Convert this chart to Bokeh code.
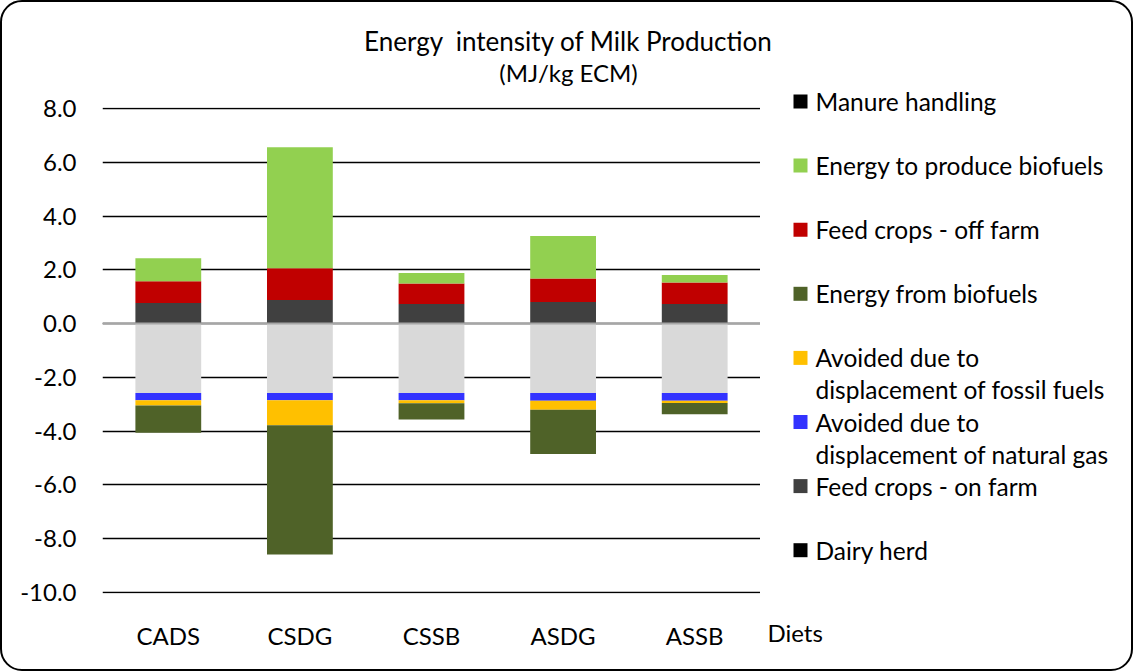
from bokeh.plotting import figure
from bokeh.models import (ColumnDataSource, FactorRange, FixedTicker, NumeralTickFormatter,
                          Span, Range1d)
from bokeh.layouts import column, row
from bokeh.core.properties import value
from bokeh.embed import file_html
from bokeh.resources import INLINE

# ---------------- data ----------------
diets = ["CADS", "CSDG", "CSSB", "ASDG", "ASSB"]

dairy_herd = [0.0, 0.0, 0.0, 0.0, 0.0]
feed_crops_on_farm = [0.77, 0.88, 0.73, 0.80, 0.73]
feed_crops_off_farm = [0.81, 1.18, 0.76, 0.88, 0.80]
energy_to_produce_biofuels = [0.85, 4.50, 0.39, 1.58, 0.28]
manure_handling = [0.0, 0.0, 0.0, 0.0, 0.0]

spacer = [-2.58, -2.58, -2.58, -2.58, -2.58]
avoided_natural_gas = [-0.27, -0.27, -0.27, -0.29, -0.29]
avoided_fossil_fuels = [-0.20, -0.93, -0.11, -0.33, -0.08]
energy_from_biofuels = [-1.01, -4.81, -0.61, -1.65, -0.42]

y_ticks = [-10, -8, -6, -4, -2, 0, 2, 4, 6, 8]

title_line1 = "Energy\u00a0 intensity of Milk Production"
title_line2 = "(MJ/kg ECM)"
x_title = "Diets"

legend_labels = ["Manure handling", "Energy to produce biofuels", "Feed crops - off farm",
                 "Energy from biofuels", "Avoided due to", "Avoided due to",
                 "Feed crops - on farm", "Dairy herd"]
legend_second_lines = ["displacement of fossil fuels", "displacement of natural gas"]
legend_colors = ["#000000", "#92D050", "#C00000", "#4F6228", "#FFC000", "#3333FF",
                 "#404040", "#000000"]

FONT = "Lato"
FS = "24px"
LEG_FS = "24.5px"
TXT = "#000000"

TOP_H = 87          # height of title strip
MAIN_W = 760        # width of chart part
TOTAL_W, TOTAL_H = 1133, 671


def no_align(f):
    if "frame_align" in f.properties():
        f.frame_align = False


def transparent(f):
    f.border_fill_alpha = 0
    f.background_fill_alpha = 0


# ---------------- title strip ----------------
title_fig = figure(width=TOTAL_W, height=TOP_H, x_range=Range1d(0, TOTAL_W), y_range=Range1d(TOP_H, 0),
                   x_axis_location=None, y_axis_location=None, min_border=0, title=None,
                   output_backend="svg", toolbar_location=None)
title_fig.outline_line_color = None
title_fig.grid.visible = False
transparent(title_fig)
no_align(title_fig)
title_fig.text(x=[568], y=[40], text=[title_line1], text_align="center",
               text_baseline="middle", text_font=value(FONT), text_font_size=value("26px"),
               text_color=TXT)
title_fig.text(x=[568], y=[72], text=[title_line2], text_align="center",
               text_baseline="middle", text_font=value(FONT), text_font_size=value(FS),
               text_color=TXT)

# ---------------- main chart ----------------
source = ColumnDataSource(dict(
    diet=diets,
    dairy=dairy_herd,
    on_farm=feed_crops_on_farm,
    off_farm=feed_crops_off_farm,
    produce=energy_to_produce_biofuels,
    manure=manure_handling,
    spacer=spacer,
    gas=avoided_natural_gas,
    fossil=avoided_fossil_fuels,
    from_bio=energy_from_biofuels,
))

main_h = TOTAL_H - TOP_H
p = figure(x_range=FactorRange(*diets), y_range=Range1d(-10.04, 8.04),
           frame_width=658, frame_height=486,
           min_border_left=102, min_border_right=0, min_border_top=107 - TOP_H,
           min_border_bottom=main_h - 486 - (107 - TOP_H),
           title=None, output_backend="svg", toolbar_location=None)
p.outline_line_color = None
p.border_fill_alpha = 0
no_align(p)

pos_cols = ["dairy", "on_farm", "off_farm", "produce", "manure"]
pos_colors = ["#000000", "#404040", "#C00000", "#92D050", "#000000"]
neg_cols = ["spacer", "gas", "fossil", "from_bio"]
neg_colors = ["#D9D9D9", "#3333FF", "#FFC000", "#4F6228"]

p.vbar_stack(pos_cols, x="diet", width=0.5, source=source, color=pos_colors, line_color=None)
p.vbar_stack(neg_cols, x="diet", width=0.5, source=source, color=neg_colors, line_color=None)

p.xgrid.grid_line_color = None
p.ygrid.ticker = FixedTicker(ticks=y_ticks)
p.ygrid.grid_line_color = "#000000"
p.ygrid.grid_line_width = 1.6

p.add_layout(Span(location=0, dimension="width", line_color="#A6A6A6", line_width=2))

p.yaxis.ticker = FixedTicker(ticks=y_ticks)
p.yaxis.formatter = NumeralTickFormatter(format="0.0")
for ax in (p.xaxis[0], p.yaxis[0]):
    ax.axis_line_color = None
    ax.major_tick_line_color = None
    ax.minor_tick_line_color = None
    ax.major_tick_out = 0
    ax.major_tick_in = 0
    ax.minor_tick_out = 0
    ax.major_label_text_font = FONT
    ax.major_label_text_font_size = FS
    ax.major_label_text_color = TXT
p.yaxis.major_label_standoff = 26
p.xaxis.major_label_standoff = 27

# ---------------- legend strip ----------------
leg_w = TOTAL_W - MAIN_W
leg = figure(width=leg_w, height=main_h, x_range=Range1d(0, leg_w), y_range=Range1d(main_h, 0),
             x_axis_location=None, y_axis_location=None, min_border=0, title=None,
             output_backend="svg", toolbar_location=None)
leg.outline_line_color = None
leg.grid.visible = False
transparent(leg)
no_align(leg)

item_y = [101 - TOP_H + 64.1 * i for i in range(len(legend_labels))]
leg.rect(x=[40] * len(item_y), y=item_y, width=14, height=14, width_units="screen",
         height_units="screen", fill_color=legend_colors, line_color=None)
leg.text(x=[55] * len(item_y), y=item_y, text=legend_labels, text_align="left",
         text_baseline="middle", text_font=value(FONT), text_font_size=value(LEG_FS), text_color=TXT)
leg.text(x=[55, 55], y=[item_y[4] + 32, item_y[5] + 32], text=legend_second_lines,
         text_align="left", text_baseline="middle", text_font=value(FONT),
         text_font_size=value(LEG_FS), text_color=TXT)
leg.text(x=[7], y=[632 - TOP_H], text=[x_title], text_align="left", text_baseline="middle",
         text_font=value(FONT), text_font_size=value(FS), text_color=TXT)

layout = column(title_fig, row(p, leg),
                styles={"outline": "2px solid #000000", "outline-offset": "-2px",
                        "border-radius": "22px", "background": "white"})

open("out.html", "w").write(file_html(layout, INLINE))
